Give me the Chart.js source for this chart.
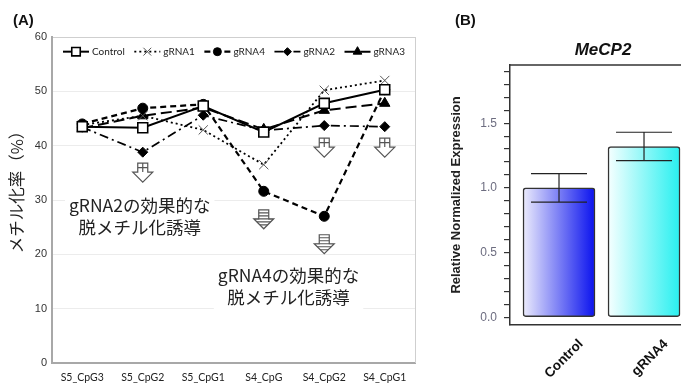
<!DOCTYPE html>
<html lang="ja">
<head>
<meta charset="UTF-8">
<title>メチル化率 / MeCP2</title>
<script src="https://cdn.jsdelivr.net/npm/chart.js"></script>
<style>
  html, body { margin: 0; padding: 0; background: #fff; overflow: hidden; }
  body { width: 681px; height: 383px; position: relative; }
  canvas { position: absolute; top: 0; }
  #chartA { left: 0; }
  #chartB { left: 440px; }
  .panel-label { position: absolute; top: 11px; font: bold 15px "Liberation Sans", Arial, sans-serif; color: #111; }
</style>
</head>
<body>
<canvas id="chartA" width="440" height="383"></canvas>
<canvas id="chartB" width="241" height="383"></canvas>
<div class="panel-label" style="left:13px">(A)</div>
<div class="panel-label" style="left:455px">(B)</div>
<script>
// panel A: methylation per CpG site
const categories = ["S5_CpG3", "S5_CpG2", "S5_CpG1", "S4_CpG", "S4_CpG2", "S4_CpG1"];
const seriesNames = ["Control", "gRNA1", "gRNA4", "gRNA2", "gRNA3"];
const controlVals = [43.5, 43.3, 47.3, 42.5, 47.8, 50.3];
const gRNA1Vals = [43.8, 45.5, 42.9, 36.5, 50.2, 52.0];
const gRNA4Vals = [44.0, 46.9, 47.6, 31.6, 27.0, 50.3];
const gRNA2Vals = [43.4, 38.8, 45.6, 42.8, 43.7, 43.5];
const gRNA3Vals = [43.2, 45.5, 47.0, 43.0, 46.5, 47.8];

// arrow markers under the effective sites
const arrowCats = ["S5_CpG2", "S4_CpG2", "S4_CpG1", "S4_CpG", "S4_CpG2"];
const arrowTops = [36.8, 41.4, 41.4, 28.2, 23.6];
const arrowKinds = ["open", "open", "open", "striped", "striped"];

// notes (x = category index, y = value of first line)
const noteTexts = [["gRNA2の効果的な", "脱メチル化誘導"], ["gRNA4の効果的な", "脱メチル化誘導"]];
const noteX = [0.95, 3.41];
const noteY = [29.1, 16.2];

// panel B: MeCP2 expression
const barLabels = ["Control", "gRNA4"];
const barMeans = [1.0, 1.32];
const barLow = [0.89, 1.21];
const barHigh = [1.11, 1.43];

const lineStyles = [
  { dash: [], width: 2, point: "rect", radius: 7, fill: "#fff", stroke: "#000", pw: 1.6 },
  { dash: [2, 3], width: 1.8, point: "crossRot", radius: 6.5, fill: "#555", stroke: "#555", pw: 1 },
  { dash: [6, 4], width: 2.2, point: "circle", radius: 5, fill: "#000", stroke: "#000", pw: 1 },
  { dash: [9, 4, 2, 4], width: 1.7, point: "rectRot", radius: 5, fill: "#000", stroke: "#000", pw: 1 },
  { dash: [11, 5], width: 2, point: "triangle", radius: 6, fill: "#000", stroke: "#000", pw: 1 }
];
const barColors = [["#ececfc", "#0a12ee"], ["#f6ffff", "#28f0f0"]];

const allVals = [controlVals, gRNA1Vals, gRNA4Vals, gRNA2Vals, gRNA3Vals];

function drawArrow(ctx, cx, top, kind) {
  const sw = 5, sh = 9, hw = 10, hh = 10;
  ctx.save();
  ctx.beginPath();
  ctx.moveTo(cx - sw, top);
  ctx.lineTo(cx + sw, top);
  ctx.lineTo(cx + sw, top + sh);
  ctx.lineTo(cx + hw, top + sh);
  ctx.lineTo(cx, top + sh + hh);
  ctx.lineTo(cx - hw, top + sh);
  ctx.lineTo(cx - sw, top + sh);
  ctx.closePath();
  ctx.fillStyle = "#fff";
  ctx.fill();
  ctx.strokeStyle = "#555";
  ctx.lineWidth = 1.2;
  ctx.stroke();
  ctx.clip();
  ctx.beginPath();
  if (kind === "open") {
    ctx.moveTo(cx, top); ctx.lineTo(cx, top + sh);
    ctx.moveTo(cx - sw, top + sh / 2); ctx.lineTo(cx + sw, top + sh / 2);
  } else {
    for (let y = top + 3; y < top + sh + hh - 2; y += 3) {
      ctx.moveTo(cx - hw, y); ctx.lineTo(cx + hw, y);
    }
  }
  ctx.stroke();
  ctx.restore();
}

const panelAPlugin = {
  id: "panelA",
  beforeDatasetsDraw(chart) {
    const { ctx, chartArea: a, scales: { x, y } } = chart;
    ctx.save();
    ctx.strokeStyle = "#cfcfcf";
    ctx.lineWidth = 1;
    ctx.beginPath();
    ctx.moveTo(a.right + 0.5, a.top);
    ctx.lineTo(a.right + 0.5, a.bottom);
    ctx.stroke();

    // y axis title, a bit above the axis centre as in the figure
    ctx.save();
    ctx.translate(17, 188);
    ctx.rotate(-Math.PI / 2);
    ctx.font = '16.5px "Noto Sans CJK JP"';
    ctx.fillStyle = "#222";
    ctx.textAlign = "center";
    ctx.textBaseline = "middle";
    ctx.fillText("メチル化率（%）", 0, 0);
    ctx.restore();

    ctx.font = '17.5px "Noto Sans CJK JP"';
    ctx.textAlign = "center";
    ctx.textBaseline = "middle";
    noteTexts.forEach((lines, i) => {
      const cx = x.getPixelForValue(noteX[i]);
      const cy = y.getPixelForValue(noteY[i]);
      const w = Math.max(...lines.map(t => ctx.measureText(t).width));
      ctx.fillStyle = "#fff";
      ctx.fillRect(cx - w / 2 - 4, cy - 14, w + 8, 22 * lines.length + 6);
      ctx.fillStyle = "#222";
      lines.forEach((t, j) => ctx.fillText(t, cx, cy + j * 22));
    });

    arrowCats.forEach((c, i) => {
      drawArrow(ctx, x.getPixelForValue(categories.indexOf(c)), y.getPixelForValue(arrowTops[i]), arrowKinds[i]);
    });
    ctx.restore();
  },
  afterDatasetsDraw(chart) {
    const { ctx, chartArea: a, scales: { y } } = chart;
    const ly = y.getPixelForValue(57.3);
    let lx = a.left + 11;
    ctx.save();
    ctx.font = '10px Lato';
    ctx.textBaseline = "middle";
    seriesNames.forEach((name, i) => {
      const st = lineStyles[i];
      ctx.save();
      ctx.setLineDash(st.dash);
      ctx.lineWidth = st.width;
      ctx.strokeStyle = "#000";
      ctx.beginPath();
      ctx.moveTo(lx, ly);
      ctx.lineTo(lx + 26, ly);
      ctx.stroke();
      ctx.restore();
      ctx.fillStyle = st.fill;
      ctx.strokeStyle = st.stroke;
      ctx.lineWidth = st.pw;
      Chart.helpers.drawPoint(ctx, { pointStyle: st.point, radius: st.radius - 1, rotation: 0, borderWidth: st.pw }, lx + 13, ly);
      ctx.fillStyle = "#222";
      ctx.fillText(name, lx + 29, ly);
      lx += 29 + ctx.measureText(name).width + 9.5;
    });
    ctx.restore();
  }
};

new Chart(document.getElementById("chartA"), {
  type: "line",
  data: {
    labels: categories,
    datasets: seriesNames.map((name, i) => ({
      label: name,
      data: allVals[i],
      borderColor: "#000",
      borderWidth: lineStyles[i].width,
      borderDash: lineStyles[i].dash,
      pointStyle: lineStyles[i].point,
      pointRadius: lineStyles[i].radius,
      pointBackgroundColor: lineStyles[i].fill,
      pointBorderColor: lineStyles[i].stroke,
      pointBorderWidth: lineStyles[i].pw,
      tension: 0,
      fill: false
    }))
  },
  options: {
    responsive: false,
    animation: false,
    layout: { padding: { top: 37, right: 25, left: 0, bottom: 0 } },
    plugins: { legend: { display: false }, tooltip: { enabled: false } },
    scales: {
      x: {
        offset: true,
        grid: { display: false, drawTicks: false },
        border: { color: "#a8a8a8", width: 2 },
        ticks: { font: { family: "Lato", size: 10.5 }, color: "#222", padding: 8, maxRotation: 0, autoSkip: false },
        afterFit(s) { s.height = 20; }
      },
      y: {
        min: 0,
        max: 60,
        ticks: { stepSize: 10, font: { family: "Liberation Sans", size: 11 }, color: "#333", padding: 5 },
        grid: { color: c => (c.tick.value === 60 ? "#cfcfcf" : "#ececec"), drawTicks: false },
        border: { color: "#a8a8a8", width: 2 },
        afterFit(s) { s.width = 52; }
      }
    }
  },
  plugins: [panelAPlugin]
});

const panelBPlugin = {
  id: "panelB",
  beforeDatasetsDraw(chart) {
    const { ctx, chartArea: a } = chart;
    ctx.save();
    ctx.strokeStyle = "#333";
    ctx.lineWidth = 1.5;
    ctx.beginPath();
    ctx.moveTo(a.left, a.top);
    ctx.lineTo(a.right, a.top);
    ctx.stroke();
    ctx.restore();
  },
  afterDatasetsDraw(chart) {
    const { ctx, chartArea: a, scales: { x, y } } = chart;
    ctx.save();
    ctx.strokeStyle = "#222";
    ctx.lineWidth = 1.2;
    barLabels.forEach((_, i) => {
      const cx = x.getPixelForValue(i);
      const yl = y.getPixelForValue(barLow[i]);
      const yh = y.getPixelForValue(barHigh[i]);
      ctx.beginPath();
      ctx.moveTo(cx, yl); ctx.lineTo(cx, yh);
      ctx.moveTo(cx - 28, yl); ctx.lineTo(cx + 28, yl);
      ctx.moveTo(cx - 28, yh); ctx.lineTo(cx + 28, yh);
      ctx.stroke();
    });

    ctx.fillStyle = "#111";
    ctx.font = 'italic bold 17px "Liberation Sans"';
    ctx.textAlign = "center";
    ctx.textBaseline = "middle";
    ctx.fillText("MeCP2", a.left + 93, 50);

    ctx.font = 'bold 13.5px "Liberation Sans"';
    ctx.textAlign = "right";
    barLabels.forEach((lab, i) => {
      const cx = x.getPixelForValue(i);
      ctx.save();
      ctx.translate(cx + 22, a.bottom + 17);
      ctx.rotate(-Math.PI / 4);
      ctx.fillText(lab, 0, 0);
      ctx.restore();
    });
    ctx.restore();
  }
};

new Chart(document.getElementById("chartB"), {
  type: "bar",
  data: {
    datasets: [{
      label: "MeCP2",
      data: barMeans.map((v, i) => ({ x: i, y: v })),
      backgroundColor(c) {
        const chart = c.chart;
        const cols = barColors[c.dataIndex] || barColors[0];
        if (!chart.chartArea || !chart.scales.x) return cols[1];
        const cx = chart.scales.x.getPixelForValue(c.dataIndex);
        const g = chart.ctx.createLinearGradient(cx - 36, 0, cx + 36, 0);
        g.addColorStop(0, cols[0]);
        g.addColorStop(1, cols[1]);
        return g;
      },
      borderColor: "#333",
      borderWidth: 1.5,
      borderRadius: 3,
      borderSkipped: false,
      barThickness: 72
    }]
  },
  options: {
    responsive: false,
    animation: false,
    layout: { padding: { top: 65, right: 0, left: 0, bottom: 0 } },
    plugins: { legend: { display: false }, tooltip: { enabled: false } },
    scales: {
      x: {
        type: "linear",
        offset: false,
        min: -0.5765,
        max: 1.435,
        ticks: { display: false },
        grid: { display: false, drawTicks: false },
        border: { color: "#333", width: 1.5 },
        afterFit(s) { s.height = 58; }
      },
      y: {
        min: -0.06,
        max: 1.95,
        ticks: {
          stepSize: 0.1,
          includeBounds: false,
          autoSkip: false,
          font: { family: "Liberation Sans", size: 12 },
          color: "#6d6d80",
          padding: 7,
          callback: v => (Math.round(v * 10) % 5 === 0 ? v.toFixed(1) : "")
        },
        grid: { drawOnChartArea: false, drawTicks: true, tickLength: 6, color: "#333", lineWidth: 1.2 },
        border: { color: "#333", width: 1.5 },
        title: {
          display: true,
          text: "Relative Normalized Expression",
          font: { family: '"Liberation Sans Narrow", "Liberation Sans", sans-serif', size: 13, weight: "bold" },
          color: "#222",
          padding: { top: 9, bottom: 0 }
        },
        afterFit(s) { s.width = 70; }
      }
    }
  },
  plugins: [panelBPlugin]
});
</script>
</body>
</html>
